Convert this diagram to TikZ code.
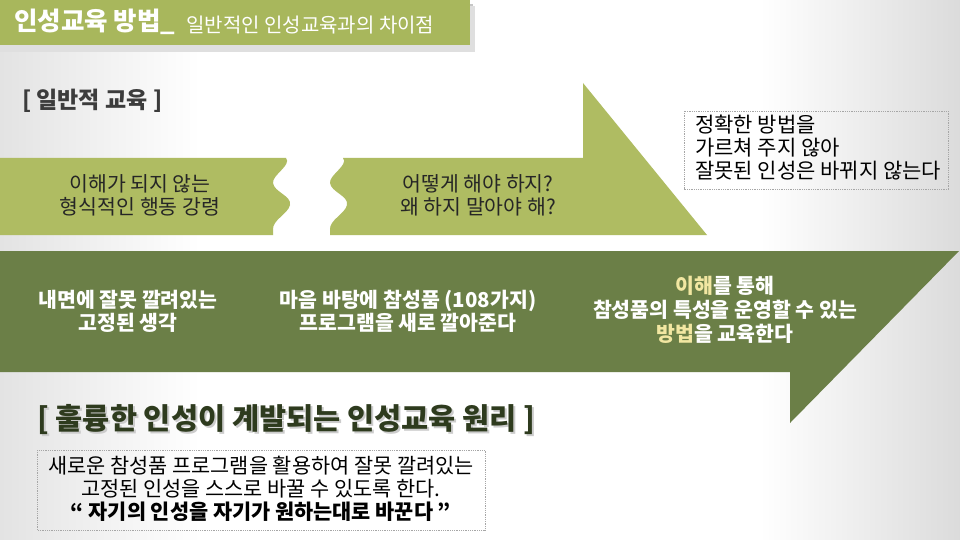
\documentclass[tikz,border=0pt]{standalone}
\usepackage{fontspec}
\setmainfont{Noto Sans CJK KR}
\usetikzlibrary{shadings}
\definecolor{hdrgreen}{HTML}{A8B75C}
\definecolor{lightgreen}{HTML}{AFBC62}
\definecolor{darkgreen}{HTML}{6B7F47}
\definecolor{headtext}{HTML}{2E3B1E}
\definecolor{hilite}{HTML}{F2E7A2}
\definecolor{txtdark}{HTML}{262626}
\tikzset{
  lighttext/.style={align=center, text=txtdark, font=\fontsize{20.5}{23}\selectfont, inner sep=0},
  darktext/.style={align=center, text=white, font=\bfseries\fontsize{20.5}{23}\selectfont, inner sep=0},
  dotbox/.style={draw=gray!70, densely dotted, line width=0.8pt},
  boxtext/.style={text=black, font=\fontsize{20.8}{23}\selectfont, inner sep=0}
}
\begin{document}
\begin{tikzpicture}[x=1pt,y=-1pt]
\useasboundingbox (0,0) rectangle (960,540);
% background with side vignettes
\fill[white] (0,0) rectangle (960,540);
\shade[left color=gray!22, right color=white] (0,50) rectangle (200,540);
\shade[left color=white, right color=gray!28] (760,0) rectangle (960,540);
% header band
\fill[gray!45] (0,4) rectangle (473,49);
\fill[gray!25] (0,6) rectangle (475,52);
\fill[hdrgreen] (0,0) rectangle (470,45);
\node[anchor=west, text=white, font=\bfseries\fontsize{25.5}{28}\selectfont, inner sep=0] (title) at (14,22) {인성교육 방법\_};
\node[anchor=west, text=white, font=\fontsize{20}{22}\selectfont, inner sep=0] (subtitle) at (186,25) {일반적인 인성교육과의 차이점};
% general education label
\node[anchor=west, text=txtdark!90, font=\bfseries\fontsize{23}{26}\selectfont, inner sep=0] (gen) at (22,101) {[ 일반적 교육 ]};
% light arrow, left piece
\fill[lightgreen] (0,158) -- (286,158) .. controls (292,165) and (272,175) .. (273,183)
  .. controls (274,192) and (292,196) .. (290,205)
  .. controls (288,214) and (272,220) .. (273,230) -- (273,235) -- (0,235) -- cycle;
% light arrow, right piece with head
\fill[lightgreen] (343,158) .. controls (349,165) and (329,175) .. (330,183)
  .. controls (331,192) and (349,196) .. (347,205)
  .. controls (345,214) and (329,220) .. (330,230) -- (330,235) -- (707,235) -- (583,83) -- (583,158) -- cycle;
\node[lighttext] (l1) at (140,195) {이해가 되지 않는\\형식적인 행동 강령};
\node[lighttext] (l2) at (478,195) {어떻게 해야 하지?\\왜 하지 말아야 해?};
% note box
\draw[dotbox] (684,111) rectangle (948,189);
\node[boxtext, anchor=north west, align=left, font=\fontsize{21}{23}\selectfont] (note) at (695,115) {정확한 방법을\\가르쳐 주지 않아\\잘못된 인성은 바뀌지 않는다};
% dark arrow
\fill[darkgreen] (0,251) -- (959,251) -- (790,423) -- (790,372) -- (0,372) -- cycle;
\node[darktext] (d1) at (128,311) {내면에 잘못 깔려있는\\고정된 생각};
\node[darktext] (d2) at (408,311) {마음 바탕에 참성품 (108가지)\\프로그램을 새로 깔아준다};
\node[darktext, font=\bfseries\fontsize{20.5}{24}\selectfont] (d3) at (725,310) {{\color{hilite}이해}를 통해\\참성품의 특성을 운영할 수 있는\\{\color{hilite}방법}을 교육한다};
% principle heading with shadow
\node[anchor=west, text=gray!40, font=\bfseries\fontsize{29.5}{32}\selectfont, inner sep=0] (headshadow) at (39,422) {[ 훌륭한 인성이 계발되는 인성교육 원리 ]};
\node[anchor=west, text=headtext, font=\bfseries\fontsize{29.5}{32}\selectfont, inner sep=0] (head) at (37,420) {[ 훌륭한 인성이 계발되는 인성교육 원리 ]};
% principle box
\draw[dotbox] (37,450) rectangle (485,530);
\node[boxtext, align=center] (pbox) at (261,489) {새로운 참성품 프로그램을 활용하여 잘못 깔려있는\\고정된 인성을 스스로 바꿀 수 있도록 한다.\\{\bfseries “ 자기의 인성을 자기가 원하는대로 바꾼다 ”}};
\end{tikzpicture}
\end{document}
